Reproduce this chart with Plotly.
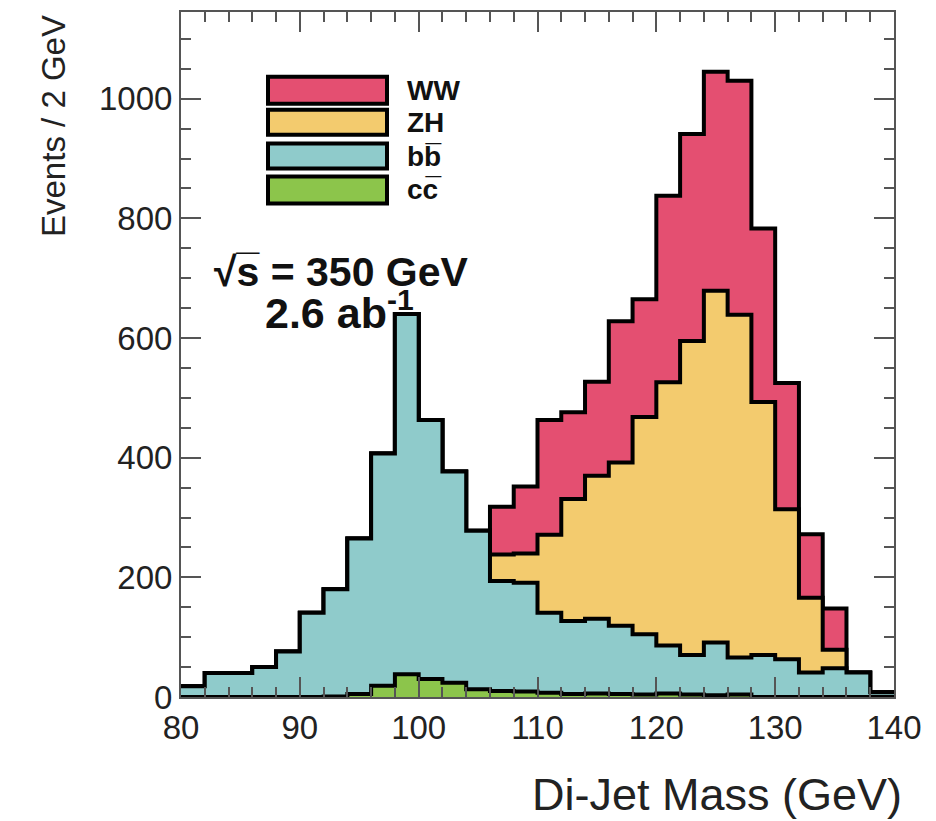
import plotly.graph_objects as go
import numpy as np

# ---------------- data (events per 2 GeV bin, 80..140 GeV) ----------------
bin_edges = [80 + 2 * i for i in range(31)]
cc = [0, 0, 0, 0, 0, 0, 1, 5, 19, 38, 30, 24, 13, 10, 9, 7, 5, 6, 5, 4,
      6, 4, 3, 4, 0, 0, 0, 0, 0, 0]
bb = [18, 40, 40, 50, 76, 141, 179, 260, 388, 602, 433, 353, 265, 184, 182,
      134, 122, 125, 114, 101, 80, 66, 88, 62, 70, 63, 41, 48, 41, 8]
zh = [0, 0, 0, 0, 0, 0, 0, 0, 0, 0, 0, 0, 0, 44, 49, 130, 204, 239, 273,
      363, 440, 525, 588, 573, 423, 251, 125, 31, 0, 0]
ww = [0, 0, 0, 0, 0, 0, 0, 0, 0, 0, 0, 0, 0, 80, 112, 192, 145, 157, 236,
      197, 312, 346, 366, 391, 290, 211, 106, 69, 0, 0]

labels = ["WW", "ZH", "bb\u0305", "cc\u0305"]
colors = ["#E44F71", "#F3CB6E", "#8FCBCB", "#8CC54B"]

x_ticks = [80, 90, 100, 110, 120, 130, 140]
y_ticks = [0, 200, 400, 600, 800, 1000]

# ---------------- geometry helpers ----------------
W, H = 936, 821
L, R, T, B = 181, 894, 10, 697
XR = [80, 140]
YR = [0, 1145]


def px(xp):
    return (xp - L) / (R - L)


def py(yp):
    return (B - yp) / (B - T)


FONT = "Liberation Sans, Arial, Helvetica, sans-serif"

# stacked cumulative layers (bottom -> top)
c_cc = np.array(cc, dtype=float)
c_bb = c_cc + np.array(bb)
c_zh = c_bb + np.array(zh)
c_ww = c_zh + np.array(ww)
layers = [(c_ww, colors[0], labels[0]), (c_zh, colors[1], labels[1]),
          (c_bb, colors[2], labels[2]), (c_cc, colors[3], labels[3])]

fig = go.Figure()

# luminosity text (drawn beneath the histogram, as in the original)
fig.add_trace(go.Scatter(
    x=[XR[0] + (265 - L) / (R - L) * (XR[1] - XR[0])],
    y=[(B - 316) / (B - T) * YR[1]],
    mode="text", text=["<b>2.6 ab<sup>-1</sup></b>"],
    textposition="middle right",
    textfont=dict(family=FONT, size=43, color="#111"),
    showlegend=False, hoverinfo="skip"))

for cum, col, name in layers:
    yv = list(cum) + [cum[-1]]
    fig.add_trace(go.Scatter(
        x=bin_edges, y=yv, mode="lines", line_shape="hv",
        line=dict(color="black", width=4),
        fill="tozeroy", fillcolor=col, name=name, showlegend=False,
        hoverinfo="skip"))

axis_common = dict(
    showline=True, linecolor="#555", linewidth=2, mirror="allticks",
    ticks="inside", ticklen=20, tickwidth=2, tickcolor="#555",
    showgrid=False, zeroline=False,
    tickfont=dict(family=FONT, size=33, color="#222"),
)

fig.update_layout(
    width=W, height=H,
    margin=dict(l=L, r=W - R, t=T, b=H - B),
    plot_bgcolor="white", paper_bgcolor="white",
    showlegend=False,
    xaxis=dict(range=XR, tickvals=x_ticks, ticktext=[str(v) for v in x_ticks],
               minor=dict(dtick=2, tick0=80, ticklen=10, tickwidth=2,
                          tickcolor="#555", ticks="inside"),
               **axis_common),
    yaxis=dict(range=YR, tickvals=y_ticks, ticktext=[str(v) for v in y_ticks],
               minor=dict(dtick=50, tick0=0, ticklen=10, tickwidth=2,
                          tickcolor="#555", ticks="inside"),
               **axis_common),
)

# legend boxes
box_y = [(75, 102), (108, 133), (142, 167), (175, 202)]
for (y0, y1), col, name in zip(box_y, colors, labels):
    fig.add_shape(type="rect", xref="paper", yref="paper",
                  x0=px(268), x1=px(387), y0=py(y1), y1=py(y0),
                  line=dict(color="black", width=4), fillcolor=col)
    fig.add_annotation(xref="paper", yref="paper", x=px(405),
                       y=py((y0 + y1) / 2), xanchor="left", yanchor="middle",
                       text="<b>%s</b>" % name, showarrow=False,
                       font=dict(family=FONT, size=28, color="#111"))

# energy label
fig.add_annotation(xref="paper", yref="paper", x=px(212), y=py(271),
                   xanchor="left", yanchor="middle",
                   text="<b>\u221As\u0305 = 350 GeV</b>", showarrow=False,
                   font=dict(family=FONT, size=41, color="#111"))

# axis titles
fig.add_annotation(xref="paper", yref="paper", x=px(904), y=py(795),
                   xanchor="right", yanchor="middle",
                   text="Di-Jet Mass (GeV)", showarrow=False,
                   font=dict(family=FONT, size=45, color="#222"))
fig.add_annotation(xref="paper", yref="paper", x=px(54), y=py(11),
                   xanchor="center", yanchor="top", textangle=-90,
                   text="Events / 2 GeV", showarrow=False,
                   font=dict(family=FONT, size=33, color="#222"))

fig.write_html("out.html",
               config={"displayModeBar": False},
               post_script="document.body.style.margin='0';"
                           "document.body.style.overflow='hidden';")
